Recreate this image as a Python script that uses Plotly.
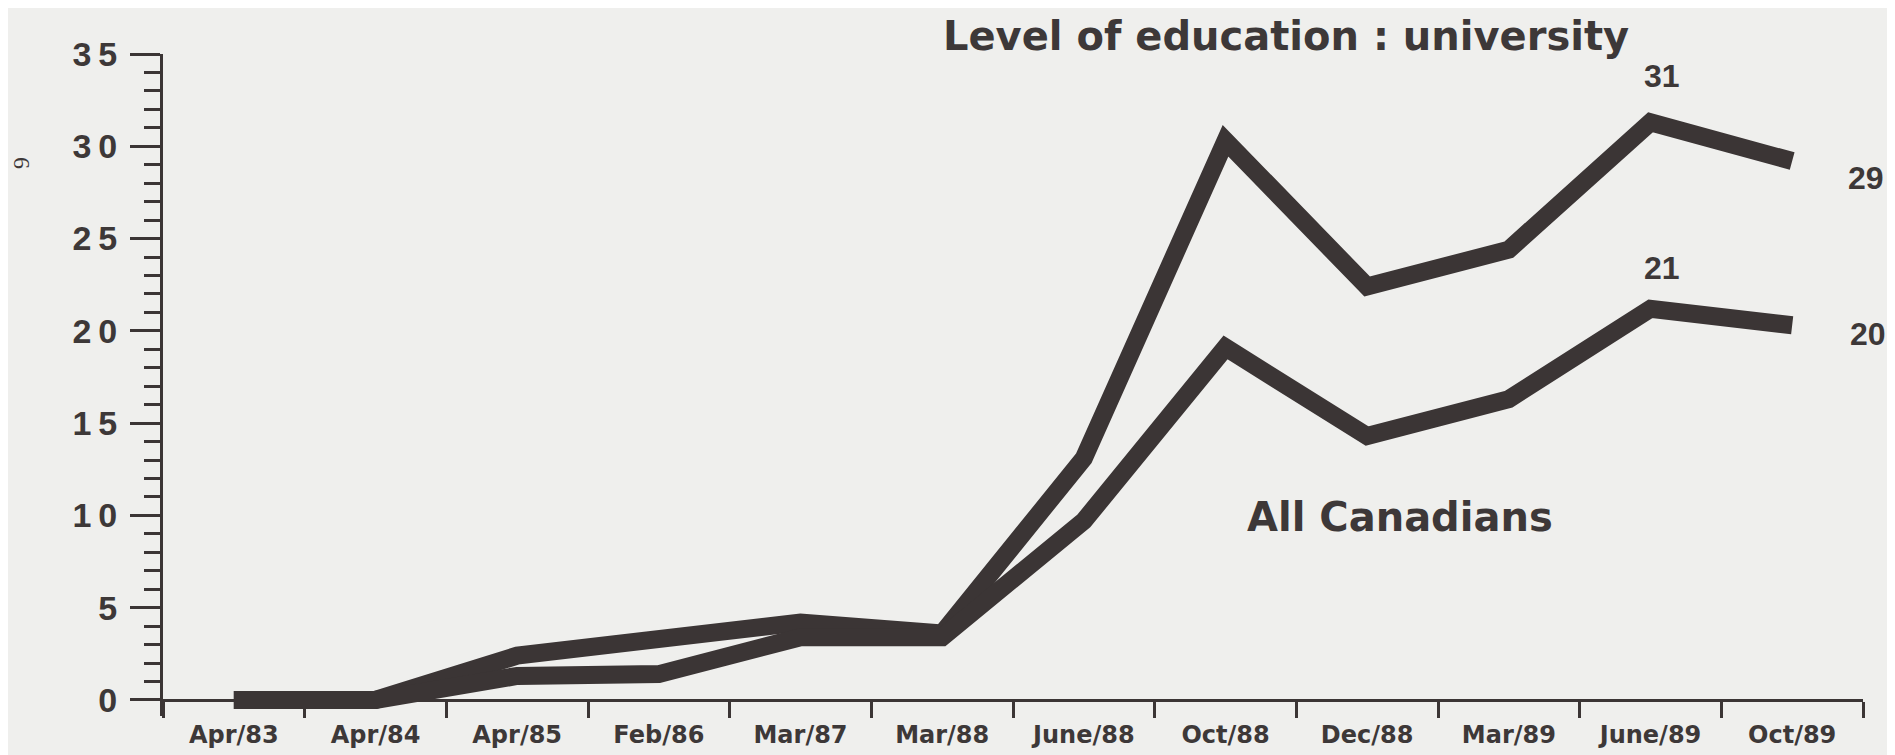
import plotly.graph_objects as go

# survey dates and shares (%)
categories = ["Apr/83", "Apr/84", "Apr/85", "Feb/86", "Mar/87", "Mar/88",
              "June/88", "Oct/88", "Dec/88", "Mar/89", "June/89", "Oct/89"]
university = [0, 0, 2.4, 3.2, 4.2, 3.6, 13.1, 30.3, 22.4, 24.4, 31.3, 29.2]
all_canadians = [0, 0, 1.3, 1.4, 3.4, 3.4, 9.7, 19.1, 14.3, 16.3, 21.2, 20.3]
y_ticks = [0, 5, 10, 15, 20, 25, 30, 35]

INK = "#3b3535"
TEXT = "#3d3838"
PAPER = "#efefed"

W, H = 1895, 755
L, R, T, B = 155, 40, 46, 47


def px(x):
    return (x - L) / (W - L - R)


def py(y):
    return (H - B - y) / (H - T - B)


fig = go.Figure()
for name, vals in [("Level of education : university", university),
                   ("All Canadians", all_canadians)]:
    fig.add_trace(go.Scatter(x=categories, y=vals, mode="lines", name=name,
                             line=dict(color=INK, width=18), hoverinfo="skip"))

num_font = dict(family="Liberation Sans", size=32, color=TEXT, weight="bold")
annotations = [
    dict(text="Level of education : university", x=px(1278), y=py(28),
         font=dict(family="DejaVu Sans", size=40, color=TEXT, weight="bold")),
    dict(text="All Canadians", x=px(1392), y=py(509),
         font=dict(family="DejaVu Sans", size=40, color=TEXT, weight="bold")),
    dict(text="31", x=px(1654), y=py(68), font=num_font),
    dict(text="21", x=px(1654), y=py(260), font=num_font),
    dict(text="29", x=px(1858), y=py(170), font=num_font),
    dict(text="20", x=px(1860), y=py(326), font=num_font),
    dict(text="6", x=px(14), y=py(155), textangle=90,
         font=dict(family="Liberation Serif", size=24, color=TEXT)),
]
for a in annotations:
    a.update(xref="paper", yref="paper", showarrow=False,
             xanchor="center", yanchor="middle")

y_low = -0.87
fig.update_layout(
    width=W, height=H,
    margin=dict(l=L, r=R, t=T, b=B),
    paper_bgcolor=PAPER, plot_bgcolor=PAPER,
    showlegend=False,
    annotations=annotations,
    xaxis=dict(type="category", range=[-0.5, 11.5], anchor="free",
               position=-y_low / (35 - y_low),
               showline=True, linecolor=INK, linewidth=3,
               ticks="outside", tickson="boundaries", ticklen=16,
               tickwidth=3, tickcolor=INK, showgrid=False, zeroline=False,
               ticklabelstandoff=12,
               tickfont=dict(family="DejaVu Sans", size=24, color=TEXT,
                             weight="bold")),
    yaxis=dict(range=[y_low, 35], showline=True, linecolor=INK, linewidth=3,
               ticks="outside", ticklen=30, tickwidth=3, tickcolor=INK,
               tickvals=y_ticks,
               ticktext=["\u2009".join(str(v)) for v in y_ticks],
               showgrid=False, zeroline=False, ticklabelstandoff=6,
               minor=dict(dtick=1, ticks="outside", ticklen=16, tickwidth=3,
                          tickcolor=INK, showgrid=False),
               tickfont=dict(family="Liberation Sans", size=34, color=TEXT,
                             weight="bold")),
)

fig.write_html("out.html")
